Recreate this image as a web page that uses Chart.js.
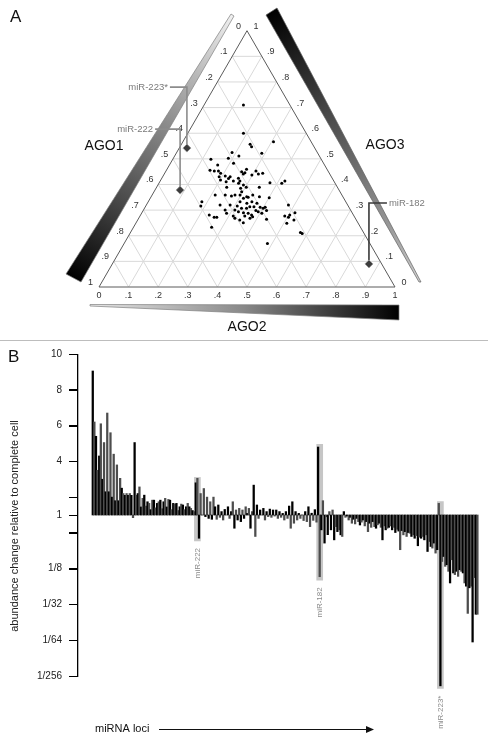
<!DOCTYPE html>
<html>
<head>
<meta charset="utf-8">
<script src="https://cdn.jsdelivr.net/npm/chart.js@4.4.1/dist/chart.umd.min.js"></script>
<style>
  body { margin: 0; background: #fff; width: 488px; height: 742px; overflow: hidden; position: relative; }
  #chartA { position: absolute; left: 0; top: 0; }
  #chartB { position: absolute; left: 0; top: 341px; }
  #sep { position: absolute; left: 0; top: 340px; width: 488px; height: 1px; background: #bdbdbd; }
</style>
</head>
<body>
<canvas id="chartA" width="488" height="340"></canvas>
<div id="sep"></div>
<canvas id="chartB" width="488" height="401"></canvas>
<script>
// ---- panel A : ternary plot (fractions of AGO2 and AGO3, AGO1 = rest)
const ago2 = [0.133, 0.188, 0.232, 0.242, 0.306, 0.289, 0.187, 0.217, 0.186, 0.129,
  0.163, 0.213, 0.147, 0.163, 0.177, 0.189, 0.191, 0.210, 0.228, 0.226,
  0.247, 0.259, 0.269, 0.257, 0.270, 0.269, 0.267, 0.298, 0.304, 0.318,
  0.331, 0.202, 0.224, 0.269, 0.289, 0.286, 0.296, 0.303, 0.237, 0.347,
  0.374, 0.415, 0.421, 0.213, 0.247, 0.270, 0.280, 0.297, 0.315, 0.323,
  0.329, 0.340, 0.366, 0.401, 0.310, 0.336, 0.350, 0.370, 0.367, 0.389,
  0.401, 0.406, 0.391, 0.417, 0.181, 0.186, 0.249, 0.283, 0.309, 0.309,
  0.328, 0.345, 0.353, 0.324, 0.343, 0.360, 0.375, 0.406, 0.315, 0.325,
  0.345, 0.362, 0.376, 0.382, 0.434, 0.232, 0.253, 0.262, 0.264, 0.480,
  0.504, 0.489, 0.504, 0.517, 0.510, 0.528, 0.574, 0.582, 0.484, 0.276,
  0.287, 0.354, 0.381];
const ago3 = [0.710, 0.600, 0.557, 0.547, 0.567, 0.522, 0.525, 0.511, 0.502, 0.498,
  0.476, 0.483, 0.456, 0.453, 0.453, 0.444, 0.430, 0.433, 0.430, 0.423,
  0.414, 0.424, 0.414, 0.450, 0.446, 0.459, 0.441, 0.437, 0.453, 0.441,
  0.444, 0.417, 0.411, 0.405, 0.398, 0.385, 0.372, 0.389, 0.389, 0.389,
  0.407, 0.405, 0.414, 0.359, 0.359, 0.355, 0.359, 0.359, 0.346, 0.352,
  0.350, 0.359, 0.352, 0.348, 0.333, 0.327, 0.333, 0.327, 0.313, 0.311,
  0.307, 0.311, 0.294, 0.298, 0.333, 0.316, 0.320, 0.320, 0.316, 0.300,
  0.307, 0.307, 0.313, 0.294, 0.290, 0.288, 0.281, 0.288, 0.277, 0.268,
  0.261, 0.251, 0.268, 0.274, 0.264, 0.281, 0.272, 0.272, 0.233, 0.320,
  0.281, 0.277, 0.272, 0.290, 0.249, 0.261, 0.213, 0.209, 0.170, 0.300,
  0.288, 0.277, 0.298];
const markedNames = ['miR-223*', 'miR-222', 'miR-182'];
const markedAgo2 = [0.026, 0.085, 0.867];
const markedAgo3 = [0.542, 0.378, 0.090];
const ternaryTicks = ['0', '.1', '.2', '.3', '.4', '.5', '.6', '.7', '.8', '.9', '1'];
const axisNames = ['AGO1', 'AGO2', 'AGO3'];

// ---- panel B : abundance change per miRNA locus
const foldValues = [
  9.05, 6.2, 5.4, 3.5, 4.3, 6.1, 3.0, 5.05, 2.3, 6.7, 2.3, 5.6, 2.0, 4.4, 1.8, 3.8, 1.8, 3.05, 2.5, 2.2,
  2.1, 2.2, 2.1, 2.2, 2.1, 0.85, 5.05,
  2.11, 2.2, 2.57, 1.45, 1.93, 2.11, 1.5, 1.74, 1.65, 1.3, 1.83, 1.83, 1.4, 1.65, 1.74, 1.83, 1.35, 1.74,
  1.93, 1.45, 1.87, 1.83, 1.3, 1.65, 1.61, 1.65, 1.25, 1.46, 1.61, 1.56, 1.3, 1.46, 1.65, 1.46, 1.37, 1.25, 1.19,
  2.8, 3.05, -0.3,
  2.2, 1.0, 2.48, 0.91, 2.0, 0.81, 1.74, 0.76, 2.0,
  1.46, 0.76, 1.56, 0.87, 1.19, 0.72, 1.31, 1.0, 1.46, 0.81, 1.19, 1.74, 0.26, 1.28, 0.72, 1.37, 0.63, 1.28,
  0.81, 1.46, 1.09, 1.37, 0.26, 1.19, 2.67, -0.2, 1.56, 0.81, 1.28, 1.0, 1.37, 0.72, 1.19, 0.91, 1.33, 0.87,
  1.28, 0.94, 1.28, 0.81, 1.19, 0.87, 1.09, 0.72, 1.19, 0.81, 1.5, 0.26, 1.74, 0.54, 1.19, 0.72, 1.09, 0.81,
  1.0, 0.69, 1.19, 0.63, 1.46, 0.35, 1.1, 0.7, 1.3, 0.6,
  4.8, -2.45,
  0.17, 1.8, -0.57, 0.9, -0.1, 1.19, 0.17, 1.28, -0.39, 0.35, 0.07,
  0.17, -0.11, -0.2, 1.19, 0.87, 0.94, 0.72, 0.87, 0.54, 0.76, 0.5, 0.81, 0.63, 0.44, 0.6, 0.72, 0.39, 0.63,
  0.07, 0.54, 0.31, 0.63, 0.35, 0.26, 0.45, 0.54, 0.31, -0.39, 0.39, 0.17, 0.26, 0.31, 0.39, 0.17, 0.31, 0.02,
  0.2, 0.1, -0.94, 0.13, -0.11, 0.07, -0.2, 0.02, -0.02, -0.2, -0.11, -0.3, -0.15, -0.72, -0.24, -0.3, -0.2,
  -0.39, -0.11, -1.04, -0.48, -0.76, -0.85, -0.57, -1.13, -0.94,
  1.65, -8.55,
  -1.6, -1.32, -1.87, -1.78, -2.15, -2.8, -1.5, -2.24, -2.33, -2.15, -2.43, -2.06, -2.15, -2.24, -2.8, -2.98,
  -4.5, -3.07, -2.98, -6.1, -2.5, -4.55, -4.55
];
const highlightIdx = [65, 141, 216];
const highlightLow = [-0.45, -2.65, -8.7];
const highlightHigh = [3.1, 4.95, 1.75];
const highlightNames = ['miR-222', 'miR-182', 'miR-223*'];
const yTickValues = [10, 8, 6, 4, 2, 1, 0, -2, -4, -6, -8];
const yTickLabels = ['10', '8', '6', '4', '', '1', '', '1/8', '1/32', '1/64', '1/256'];

const FONT = 'Arial, "Liberation Sans", sans-serif';
const S = Math.sqrt(3) / 2;

// barycentric -> plane
function tern(a2, a3) {
  return { x: a2 + a3 / 2, y: a3 * S };
}

function poly(ctx, pts) {
  ctx.beginPath();
  ctx.moveTo(pts[0][0], pts[0][1]);
  for (let i = 1; i < pts.length; i++) ctx.lineTo(pts[i][0], pts[i][1]);
  ctx.closePath();
}

const ternaryDecor = {
  id: 'ternaryDecor',
  beforeDatasetsDraw(chart) {
    const ctx = chart.ctx;
    const xs = chart.scales.x;
    const ys = chart.scales.y;
    const P = (a2, a3) => {
      const t = tern(a2, a3);
      return [xs.getPixelForValue(t.x), ys.getPixelForValue(t.y)];
    };
    const seg = (p, q) => {
      ctx.beginPath();
      ctx.moveTo(p[0], p[1]);
      ctx.lineTo(q[0], q[1]);
      ctx.stroke();
    };
    ctx.save();

    // gradient wedges
    let g = ctx.createLinearGradient(232, 15, 73, 278);
    g.addColorStop(0, '#f0f0f0');
    g.addColorStop(0.35, '#9a9a9a');
    g.addColorStop(0.7, '#4a4a4a');
    g.addColorStop(1, '#000');
    poly(ctx, [[231, 14], [234, 16], [81, 282], [66, 274]]);
    ctx.fillStyle = g;
    ctx.fill();
    ctx.strokeStyle = '#808080';
    ctx.lineWidth = 0.7;
    ctx.stroke();

    g = ctx.createLinearGradient(271, 11, 420, 281);
    g.addColorStop(0, '#000');
    g.addColorStop(0.45, '#555');
    g.addColorStop(0.8, '#999');
    g.addColorStop(1, '#d0d0d0');
    poly(ctx, [[266, 15], [277, 8], [421, 282], [419, 282]]);
    ctx.fillStyle = g;
    ctx.fill();
    ctx.strokeStyle = '#606060';
    ctx.stroke();

    g = ctx.createLinearGradient(90, 0, 399, 0);
    g.addColorStop(0, '#e8e8e8');
    g.addColorStop(0.5, '#888');
    g.addColorStop(1, '#000');
    poly(ctx, [[90, 304.5], [399, 305], [399, 320], [90, 306]]);
    ctx.fillStyle = g;
    ctx.fill();
    ctx.strokeStyle = '#808080';
    ctx.stroke();

    // grid
    ctx.strokeStyle = '#d9d9d9';
    ctx.lineWidth = 1;
    for (let k = 1; k < 10; k++) {
      const f = k / 10;
      seg(P(0, f), P(1 - f, f));
      seg(P(f, 0), P(f, 1 - f));
      seg(P(1 - f, 0), P(0, 1 - f));
    }
    // triangle
    ctx.strokeStyle = '#5a5a5a';
    poly(ctx, [P(0, 0), P(1, 0), P(0, 1)]);
    ctx.stroke();

    // tick labels
    ctx.fillStyle = '#333';
    ctx.font = '9px ' + FONT;
    ctx.textAlign = 'center';
    ctx.textBaseline = 'middle';
    ternaryTicks.forEach((lab, k) => {
      const f = k / 10;
      let p = P(f, 0);
      ctx.fillText(lab, p[0], p[1] + 9);
      p = P(0, 1 - f);
      ctx.fillText(lab, p[0] - 8.5, p[1] - 4.5);
      p = P(1 - f, f);
      ctx.fillText(lab, p[0] + 9, p[1] - 4.5);
    });

    // axis names
    ctx.fillStyle = '#111';
    ctx.font = '14px ' + FONT;
    ctx.fillText(axisNames[0], 104, 146);
    ctx.fillText(axisNames[1], 247, 327);
    ctx.fillText(axisNames[2], 385, 145);

    // callouts
    const dir = [-1, -1, 1];
    const arm = [17, 25, 18];
    const col = ['#8c8c8c', '#8c8c8c', '#3a3a3a'];
    ctx.font = '9.5px ' + FONT;
    markedNames.forEach((name, k) => {
      const p = P(markedAgo2[k], markedAgo3[k]);
      const top = p[1] - 61;
      const end = p[0] + dir[k] * arm[k];
      ctx.strokeStyle = col[k];
      ctx.lineWidth = 1.6;
      ctx.beginPath();
      ctx.moveTo(p[0], p[1]);
      ctx.lineTo(p[0], top);
      ctx.lineTo(end, top);
      ctx.stroke();
      ctx.fillStyle = '#7a7a7a';
      ctx.textAlign = dir[k] < 0 ? 'right' : 'left';
      ctx.fillText(name, end + dir[k] * 2, top);
    });

    // panel letter
    ctx.fillStyle = '#111';
    ctx.font = '17px ' + FONT;
    ctx.textAlign = 'left';
    ctx.fillText('A', 10, 17);
    ctx.restore();
  }
};

new Chart(document.getElementById('chartA'), {
  type: 'scatter',
  data: {
    datasets: [
      {
        data: ago2.map((a, i) => tern(a, ago3[i])),
        backgroundColor: '#000',
        borderWidth: 0,
        pointRadius: 1.5
      },
      {
        data: markedAgo2.map((a, i) => tern(a, markedAgo3[i])),
        pointStyle: 'rectRot',
        backgroundColor: '#3c3c3c',
        borderColor: '#9a9a9a',
        borderWidth: 1,
        pointRadius: 4
      }
    ]
  },
  options: {
    responsive: false,
    animation: false,
    devicePixelRatio: 1,
    layout: { padding: { left: 99, right: 93, top: 30.7, bottom: 53 } },
    plugins: { legend: { display: false }, tooltip: { enabled: false } },
    scales: {
      x: { type: 'linear', min: 0, max: 1, display: false },
      y: { type: 'linear', min: 0, max: S, display: false }
    }
  },
  plugins: [ternaryDecor]
});

const lociDecor = {
  id: 'lociDecor',
  afterDatasetsDraw(chart) {
    const ctx = chart.ctx;
    const xs = chart.scales.x;
    const ys = chart.scales.y;
    ctx.save();
    // names below the highlighted loci
    ctx.fillStyle = '#8a8a8a';
    ctx.font = '8px ' + FONT;
    ctx.textAlign = 'right';
    ctx.textBaseline = 'middle';
    highlightNames.forEach((name, k) => {
      const x = xs.getPixelForValue(highlightIdx[k]);
      const y = ys.getPixelForValue(highlightLow[k]) + 7;
      ctx.save();
      ctx.translate(x + 0.5, y);
      ctx.rotate(-Math.PI / 2);
      ctx.fillText(name, 0, 0);
      ctx.restore();
    });
    // y title
    ctx.fillStyle = '#222';
    ctx.font = '11px ' + FONT;
    ctx.textAlign = 'center';
    ctx.save();
    ctx.translate(15, 185);
    ctx.rotate(-Math.PI / 2);
    ctx.fillText('abundance change relative to complete cell', 0, 0);
    ctx.restore();
    // x arrow
    ctx.textAlign = 'left';
    ctx.fillStyle = '#111';
    ctx.fillText('miRNA loci', 95, 388);
    ctx.fillRect(159, 388, 208, 1);
    ctx.beginPath();
    ctx.moveTo(366, 385);
    ctx.lineTo(374, 388.5);
    ctx.lineTo(366, 392);
    ctx.closePath();
    ctx.fill();
    // panel letter
    ctx.font = '17px ' + FONT;
    ctx.fillText('B', 8, 16);
    ctx.restore();
  },
  afterDraw(chart) {
    // axis line and tick marks of the fold-change scale
    const ctx = chart.ctx;
    const ys = chart.scales.y;
    const x0 = Math.round(chart.chartArea.left);
    const yTop = Math.round(ys.getPixelForValue(yTickValues[0]));
    const yBot = Math.round(ys.getPixelForValue(yTickValues[yTickValues.length - 1]));
    ctx.save();
    ctx.fillStyle = '#000';
    ctx.fillRect(x0, yTop, 1.3, yBot - yTop + 1);
    yTickValues.forEach((v) => {
      ctx.fillRect(x0 - 8, Math.round(ys.getPixelForValue(v)), 8, 1);
    });
    ctx.restore();
  }
};

new Chart(document.getElementById('chartB'), {
  type: 'bar',
  data: {
    datasets: [
      {
        data: highlightIdx.map((x, k) => ({ x: x, y: [highlightLow[k], highlightHigh[k]] })),
        backgroundColor: '#c6c6c6',
        barThickness: 6,
        grouped: false,
        order: 2,
        clip: false
      },
      {
        data: foldValues.map((v, i) => ({ x: i, y: [1, v] })),
        backgroundColor: foldValues.map((v, i) => (i % 2 ? '#4d4d4d' : '#000')),
        barPercentage: 1,
        categoryPercentage: 1,
        grouped: false,
        order: 1,
        clip: false
      }
    ]
  },
  options: {
    responsive: false,
    animation: false,
    devicePixelRatio: 1,
    layout: { padding: { top: 12, bottom: 66, left: 0, right: 8 } },
    plugins: { legend: { display: false }, tooltip: { enabled: false } },
    scales: {
      x: { type: 'linear', display: false, offset: false, min: -9.8, max: 240.6 },
      y: {
        min: -8,
        max: 10,
        afterBuildTicks: (s) => { s.ticks = yTickValues.map((v) => ({ value: v })); },
        afterFit: (s) => { s.width = 77; },
        ticks: {
          autoSkip: false,
          padding: 7,
          color: '#222',
          font: { size: 10, family: FONT },
          callback: (v) => yTickLabels[yTickValues.indexOf(v)]
        },
        grid: { drawOnChartArea: false, tickLength: 8, color: '#000' },
        border: { display: true, color: '#000' }
      }
    }
  },
  plugins: [lociDecor]
});
</script>
</body>
</html>
